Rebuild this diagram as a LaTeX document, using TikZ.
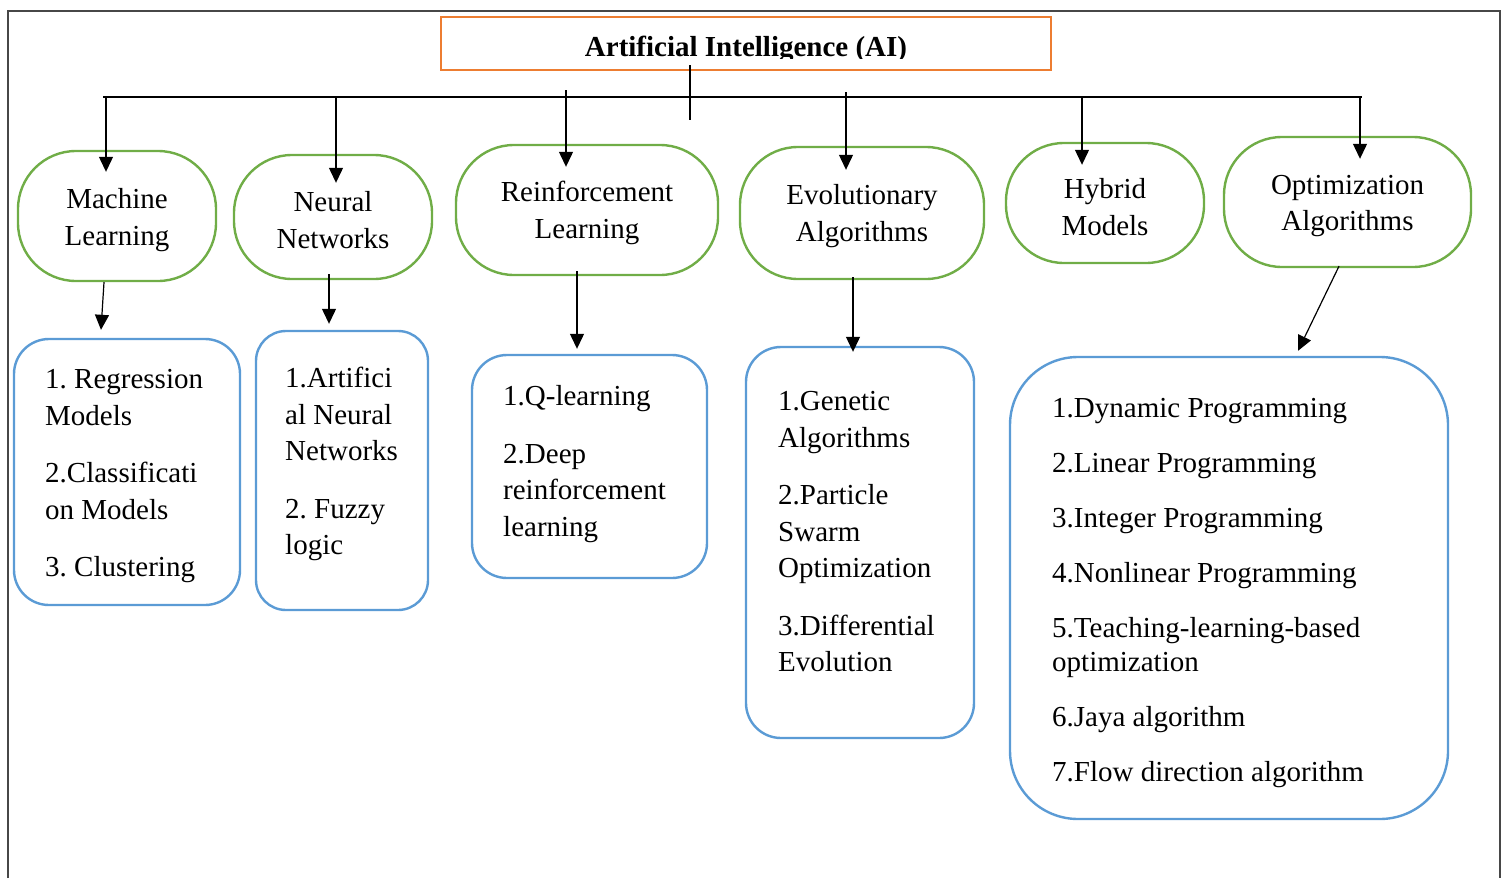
\documentclass[tikz,border=0pt]{standalone}
\usepackage{fontspec}
\setmainfont{Liberation Serif}
\usetikzlibrary{arrows.meta,calc}
\definecolor{aiorange}{HTML}{ED7D31}
\definecolor{catgreen}{HTML}{70AD47}
\definecolor{listblue}{HTML}{5B9BD5}
\definecolor{framegray}{HTML}{474747}
\frenchspacing
\begin{document}
\begin{tikzpicture}[x=1pt,y=-1pt,
  txt/.style={font=\fontsize{29}{36.5}\selectfont},
  cat/.style={draw=catgreen, line width=2.4pt, rounded corners=58pt, inner sep=0pt},
  cattext/.style={align=center, inner sep=0pt, txt},
  list/.style={draw=listblue, line width=2.4pt, inner sep=0pt},
  items/.style={anchor=north west, align=left, inner sep=0pt, txt},
  arr/.style={line width=1.2pt, -{Triangle[length=15pt,width=14pt]}},
  wire/.style={line width=1.2pt}]
\useasboundingbox (0,0) rectangle (1504,878);

% outer frame (open at the bottom)
\draw[line width=2pt, framegray] (8,878) -- (8,11) -- (1500,11) -- (1500,878);

% root
\node[draw=aiorange, line width=2.4pt, minimum width=610pt, minimum height=53pt, inner sep=0pt] (ai) at (746,43.5) {};
\begin{scope}
  \clip (441,17) rectangle (1051,58);
  \node[anchor=base, inner sep=0pt, font=\fontsize{29}{36.5}\selectfont\bfseries] (aitext) at (746,56) {Artificial Intelligence (AI)};
\end{scope}

% categories
\node[cat, minimum width=198pt, minimum height=130pt] (ml) at (117,216) {};
\node[cat, minimum width=198pt, minimum height=124pt] (nn) at (333,217) {};
\node[cat, minimum width=262pt, minimum height=130pt] (rl) at (587,210) {};
\node[cat, minimum width=244pt, minimum height=132pt] (ea) at (862,213) {};
\node[cat, minimum width=198pt, minimum height=120pt] (hm) at (1105,203) {};
\node[cat, minimum width=247pt, minimum height=130pt] (oa) at (1347.5,202) {};
\node[cattext] (mltx) at ($(ml)+(0,4)$) {Machine\\Learning};
\node[cattext] (nntx) at ($(nn)+(0,3)$) {Neural\\Networks};
\node[cattext] (rltx) at ($(rl)+(0,3)$) {Reinforcement\\Learning};
\node[cattext] (eatx) at ($(ea)+(0,3)$) {Evolutionary\\Algorithms};
\node[cattext] (hmtx) at ($(hm)+(0,4)$) {Hybrid\\Models};
\node[cattext] (oatx) at ($(oa)+(0,4)$) {Optimization\\Algorithms};

% method lists
\node[list, rounded corners=35pt, minimum width=226pt, minimum height=266pt] (b1) at (127,472) {};
\node[list, rounded corners=30pt, minimum width=172pt, minimum height=279pt] (b2) at (342,470.5) {};
\node[list, rounded corners=35pt, minimum width=235pt, minimum height=223pt] (b3) at (589.5,466.5) {};
\node[list, rounded corners=35pt, minimum width=228pt, minimum height=391pt] (b4) at (860,542.5) {};
\node[list, rounded corners=68pt, minimum width=438pt, minimum height=462pt] (b5) at (1229,588) {};

\node[items] (t1) at (45,369.2) {1. Regression\\Models\\[21pt]2.Classificati\\on Models\\[21pt]3. Clustering};
\node[items] (t2) at (285,367.2) {1.Artifici\\al Neural\\Networks\\[21pt]2. Fuzzy\\logic};
\node[items] (t3) at (503,385.2) {1.Q-learning\\[21pt]2.Deep\\reinforcement\\learning};
\node[items] (t4) at (778,391.2) {1.Genetic\\Algorithms\\[21pt]2.Particle\\Swarm\\Optimization\\[21pt]3.Differential\\Evolution};
\node[items, font=\fontsize{29}{34}\selectfont] (t5) at (1052,398.2) {1.Dynamic Programming\\[21pt]2.Linear Programming\\[21pt]3.Integer Programming\\[21pt]4.Nonlinear Programming\\[21pt]5.Teaching-learning-based\\optimization\\[21pt]6.Jaya algorithm\\[21pt]7.Flow direction algorithm};

% distribution bus
\coordinate (busL) at (103,97);
\coordinate (busR) at (1362,97);
\draw[wire] (busL) -- (busR);
\draw[wire] ($(ai.south)+(-56,-6)$) -- ($(ai.south)+(-56,49)$);

\coordinate (d1) at (106,96);
\coordinate (d2) at (336,97);
\coordinate (d3) at (566,90);
\coordinate (d4) at (846,92);
\coordinate (d5) at (1082,97);
\coordinate (d6) at (1360,97);
\draw[arr] (d1) -- ($(ml.north)+(-11,22)$);
\draw[arr] (d2) -- ($(nn.north)+(3,29)$);
\draw[arr] (d3) -- ($(rl.north)+(-21,23)$);
\draw[arr] (d4) -- ($(ea.north)+(-16,24)$);
\draw[arr] (d5) -- ($(hm.north)+(-23,23)$);
\draw[arr] (d6) -- ($(oa.north)+(12.5,23)$);

% category to list
\draw[arr] ($(ml.south)+(-13,0)$) -- ($(b1.north)+(-26,-8)$);
\draw[arr] ($(nn.south)+(-4,-6)$) -- ($(b2.north)+(-13,-6)$);
\draw[arr] ($(rl.south)+(-10,-5)$) -- ($(b3.north)+(-12.5,-5)$);
\draw[arr] ($(ea.south)+(-9,-3)$) -- ($(b4.north)+(-7,6)$);
\draw[arr] ($(oa.south)+(-8.5,-2)$) -- ($(b5.north)+(69,-5)$);
\end{tikzpicture}
\end{document}
